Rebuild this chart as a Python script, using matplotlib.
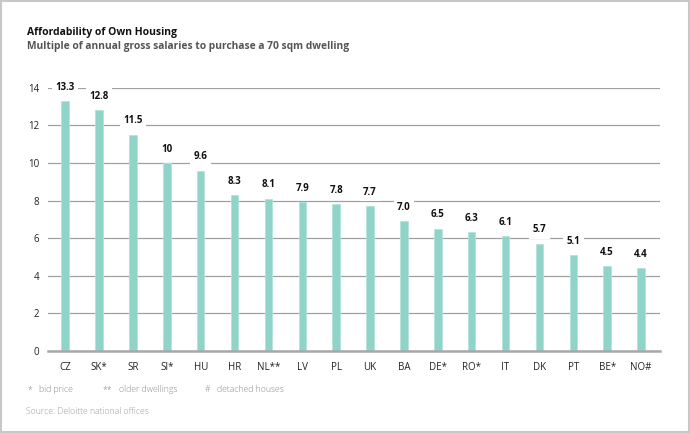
import matplotlib.pyplot as plt
from matplotlib.patches import Rectangle

# data
countries = ['CZ', 'SK*', 'SR', 'SI*', 'HU', 'HR', 'NL**', 'LV', 'PL', 'UK',
             'BA', 'DE*', 'RO*', 'IT', 'DK', 'PT', 'BE*', 'NO#']
values = [13.3, 12.8, 11.5, 10.0, 9.6, 8.3, 8.1, 7.9, 7.8, 7.7,
          6.9, 6.5, 6.3, 6.1, 5.7, 5.1, 4.5, 4.4]
value_labels = ['13.3', '12.8', '11.5', '10', '9.6', '8.3', '8.1', '7.9', '7.8', '7.7',
                '7.0', '6.5', '6.3', '6.1', '5.7', '5.1', '4.5', '4.4']
yticks = [0, 2, 4, 6, 8, 10, 12, 14]

plt.rcParams['font.family'] = ['Open Sans', 'DejaVu Sans']

fig = plt.figure(figsize=(6.9, 4.33), dpi=100)
ax = fig.add_axes([0.069, 0.19, 0.888, 0.607])

x = range(len(countries))
ax.bar(x, values, width=0.22, color='#8fd3c9', edgecolor='#b5e3dc', linewidth=0.6, zorder=2)

for xi, v, lab in zip(x, values, value_labels):
    ax.annotate(lab, (xi, v), xytext=(0, 10), textcoords='offset points',
                ha='center', va='center', fontsize=7, fontweight='bold', color='#111111',
                bbox=dict(boxstyle='square,pad=0.35', fc='white', ec='none'), zorder=3)

ax.set_xlim(-0.52, 17.57)
ax.set_ylim(0, 14)
ax.set_yticks(yticks)
ax.set_xticks(list(x))
ax.set_xticklabels(countries)
ax.tick_params(axis='both', length=0, labelsize=7, colors='#222222')
ax.tick_params(axis='x', pad=8)
ax.tick_params(axis='y', pad=6)
ax.yaxis.grid(True, color='#a0a0a0', linewidth=0.9, zorder=0)
ax.set_axisbelow(True)
for s in ['top', 'right', 'left']:
    ax.spines[s].set_visible(False)
ax.spines['bottom'].set_color('#a8a8a8')
ax.spines['bottom'].set_linewidth(1.8)

fig.text(0.039, 0.926, 'Affordability of Own Housing', fontsize=7.5, fontweight='bold',
         color='#111111', va='center')
fig.text(0.039, 0.893, 'Multiple of annual gross salaries to purchase a 70 sqm dwelling',
         fontsize=7.4, fontweight='bold', color='#555555', va='center')

# footnotes
foot_y = 1 - 390 / 433
fnote = dict(fontsize=6.2, color='#8a8a8a', va='center', fontweight='light')
fig.text(28 / 690, foot_y, '*', **fnote)
fig.text(39 / 690, foot_y, 'bid price', **fnote)
fig.text(103 / 690, foot_y, '**', **fnote)
fig.text(119 / 690, foot_y, 'older dwellings', **fnote)
fig.text(205 / 690, foot_y, '#', **fnote)
fig.text(217 / 690, foot_y, 'detached houses', **fnote)
fig.text(26 / 690, 1 - 412 / 433, 'Source: Deloitte national offices',
         fontsize=6.2, color='#999999', va='center', fontweight='light')

# light frame around the whole picture
fig.patches.append(Rectangle((0.002, 0.003), 0.996, 0.994, transform=fig.transFigure,
                             fill=False, ec='#c8c8c8', lw=1.5))

fig.savefig('out.png', dpi=100)
